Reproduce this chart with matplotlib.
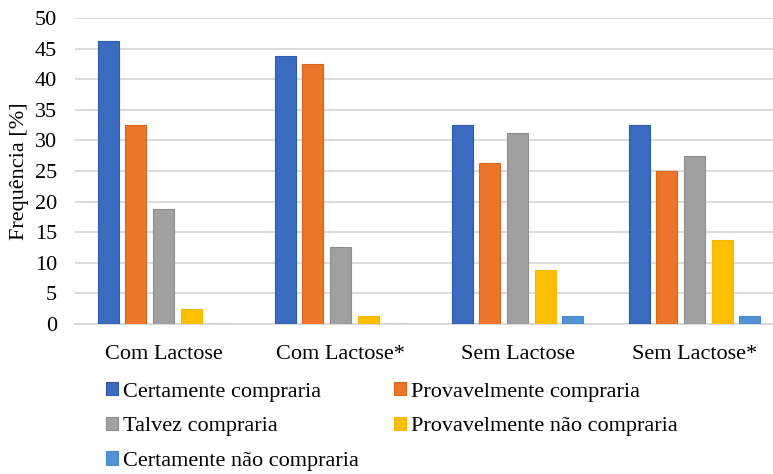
import numpy as np
import matplotlib.pyplot as plt

plt.rcParams['font.family'] = ['Liberation Serif', 'DejaVu Serif']

categories = ['Com Lactose', 'Com Lactose*', 'Sem Lactose', 'Sem Lactose*']
series_names = ['Certamente compraria', 'Provavelmente compraria',
                'Talvez compraria', 'Provavelmente não compraria',
                'Certamente não compraria']
certamente = [46.25, 43.75, 32.5, 32.5]
provavelmente = [32.5, 42.5, 26.25, 25.0]
talvez = [18.75, 12.5, 31.25, 27.5]
prov_nao = [2.5, 1.25, 8.75, 13.75]
cert_nao = [0.0, 0.0, 1.25, 1.25]
colors = ['#3B6BC0', '#EB7629', '#A0A0A0', '#FFBF00', '#4F93D4']
edges = ['#2F5AA8', '#D9651C', '#8E8E8E', '#F5B800', '#4A8ACB']

series = [certamente, provavelmente, talvez, prov_nao, cert_nao]

fig = plt.figure(figsize=(7.73, 4.74), dpi=100)
ax = fig.add_axes([0.097, 0.3165, 0.916, 0.6455])

x = np.arange(len(categories))
pitch = 0.156
width = 0.119
handles = []
for i, (vals, name) in enumerate(zip(series, series_names)):
    h = ax.bar(x + (i - 2) * pitch, vals, width=width, color=colors[i],
               edgecolor=edges[i], linewidth=0.8, label=name, zorder=3)
    handles.append(h)

ax.set_xlim(-0.5, 3.5)
ax.set_ylim(0, 50)
ax.set_yticks(np.arange(0, 51, 5))
ax.yaxis.grid(True, color='#D9D9D9', linewidth=1.3, zorder=0)
ax.set_axisbelow(True)
for s in ['top', 'right', 'left']:
    ax.spines[s].set_visible(False)
ax.spines['bottom'].set_color('#D9D9D9')
ax.spines['bottom'].set_linewidth(1.3)
ax.tick_params(axis='both', length=0, labelsize=16, colors='black')
ax.tick_params(axis='x', pad=15)
ax.tick_params(axis='y', pad=13)
ax.set_xticks(x)
ax.set_xticklabels(categories)
ax.set_ylabel('Frequência [%]', fontsize=16, labelpad=4)

order = [0, 2, 4, 1, 3]
fig.legend([handles[k] for k in order], [series_names[k] for k in order],
           loc='upper left', bbox_to_anchor=(0.137, 0.194), ncol=2,
           frameon=False, fontsize=16, handlelength=0.55, handleheight=0.55,
           handletextpad=0.2, columnspacing=1.6, labelspacing=0.68,
           borderaxespad=0, borderpad=0)

fig.savefig('out.png', dpi=100)
